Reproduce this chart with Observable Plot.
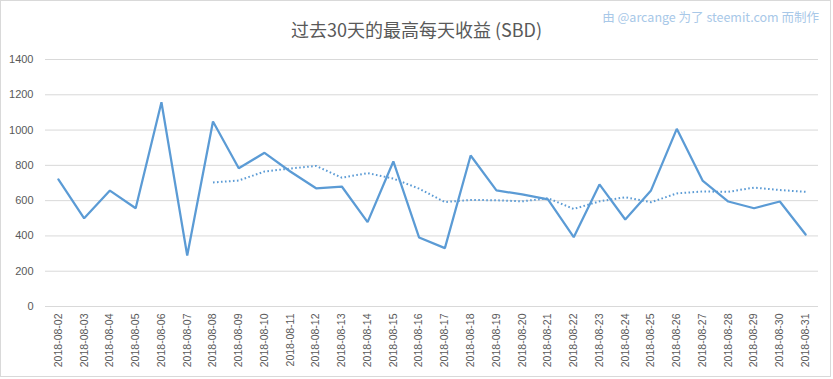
<!DOCTYPE html>
<html>
<head>
<meta charset="utf-8">
<script src="https://cdn.jsdelivr.net/npm/d3@7"></script>
<script src="https://cdn.jsdelivr.net/npm/@observablehq/plot@0.6"></script>
<style>
  html, body { margin: 0; padding: 0; background: #fff; }
  #wrap { position: relative; width: 833px; height: 379px; overflow: hidden; background: #fff; }
  #frame { position: absolute; left: 0; top: 0; width: 829px; height: 375px; border: 1px solid #d9d9d9; pointer-events: none; }
  #title { position: absolute; left: 0; width: 833px; top: 16px; text-align: center; font-family: "Noto Sans CJK SC", sans-serif; font-size: 18px; color: #595959; line-height: 26px; white-space: nowrap; }
  #credit { position: absolute; right: 14px; top: 8px; font-family: "Noto Sans CJK SC", sans-serif; font-size: 12.5px; color: #a8c8e8; line-height: 18px; white-space: nowrap; }
  #chart { position: absolute; left: 0; top: 0; }
</style>
</head>
<body>
<div id="wrap">
  <div id="chart"></div>
  <div id="title">过去30天的最高每天收益 (SBD)</div>
  <div id="credit">由 @arcange 为了 steemit.com 而制作</div>
  <div id="frame"></div>
</div>
<script>
const dates = [
  "2018-08-02","2018-08-03","2018-08-04","2018-08-05","2018-08-06","2018-08-07",
  "2018-08-08","2018-08-09","2018-08-10","2018-08-11","2018-08-12","2018-08-13",
  "2018-08-14","2018-08-15","2018-08-16","2018-08-17","2018-08-18","2018-08-19",
  "2018-08-20","2018-08-21","2018-08-22","2018-08-23","2018-08-24","2018-08-25",
  "2018-08-26","2018-08-27","2018-08-28","2018-08-29","2018-08-30","2018-08-31"
];
const values = [
  720, 500, 657, 557, 1158, 289,
  1049, 784, 871, 765, 670, 680,
  478, 822, 391, 331, 856, 658,
  635, 607, 393, 692, 493, 658,
  1007, 714, 595, 557, 595, 408
];
const trend = [
  null, null, null, null, null, null,
  703, 714, 765, 782, 797, 730,
  756, 725, 668, 592, 604, 602,
  596, 614, 553, 596, 619, 591,
  641, 652, 650, 674, 660, 650
];
const yTicks = [0, 200, 400, 600, 800, 1000, 1200, 1400];

const rows = dates.map((d, i) => ({date: d, value: values[i], trend: trend[i]}));
const trendRows = rows.filter(d => d.trend != null);

const chart = Plot.plot({
  width: 833,
  height: 379,
  marginLeft: 45,
  marginRight: 15,
  marginTop: 59,
  marginBottom: 73,
  style: {background: "transparent", color: "#595959", fontFamily: "Liberation Sans, sans-serif"},
  x: {type: "point", domain: dates, padding: 0.5, round: false, label: null},
  y: {domain: [0, 1400], label: null},
  marks: [
    Plot.ruleY(yTicks, {stroke: "#d9d9d9", strokeWidth: 1}),
    Plot.lineY(trendRows, {x: "date", y: "trend", stroke: "#5b9bd5", strokeWidth: 2, strokeDasharray: "1.6,2.4", strokeLinecap: "butt"}),
    Plot.lineY(rows, {x: "date", y: "value", stroke: "#5b9bd5", strokeWidth: 2.25, strokeLinejoin: "miter", curve: "linear"}),
    Plot.axisY({ticks: yTicks, tickSize: 0, tickPadding: 12, fontSize: 11, tickFormat: d => String(d), label: null}),
    Plot.axisX({tickRotate: -90, tickSize: 0, tickPadding: 7, fontSize: 10.5, label: null})
  ]
});
document.getElementById("chart").appendChild(chart);
</script>
</body>
</html>
